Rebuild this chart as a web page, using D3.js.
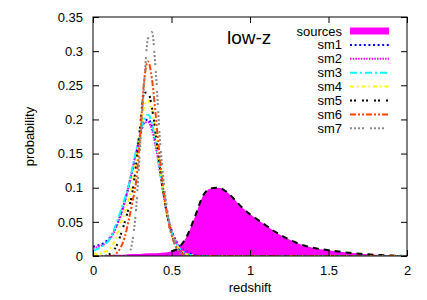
<!DOCTYPE html>
<html>
<head>
<meta charset="utf-8">
<script src="https://cdn.jsdelivr.net/npm/d3@7"></script>
<style>
  body { margin: 0; background: #fff; }
  svg text { font-family: "Liberation Sans", Arial, sans-serif; fill: #000; }
</style>
</head>
<body>
<svg id="chart" width="427" height="300"></svg>
<script>
// redshift grid for the sm curves
const smZ = [0, 0.025, 0.05, 0.075, 0.1, 0.125, 0.15, 0.175, 0.2, 0.225, 0.25, 0.275, 0.3, 0.325,
  0.35, 0.375, 0.4, 0.425, 0.45, 0.475, 0.5, 0.525, 0.55, 0.575, 0.6, 0.625, 0.65, 0.675, 0.7]

const sm1 = [0.014, 0.015, 0.017, 0.02, 0.025, 0.033, 0.045, 0.06, 0.078, 0.1, 0.125, 0.15, 0.175, 0.195,
  0.2, 0.19, 0.163, 0.127, 0.09, 0.06, 0.038, 0.024, 0.015, 0.01, 0.006, 0.003, 0.001, 0, 0]
const sm2 = [0.012, 0.013, 0.015, 0.018, 0.023, 0.031, 0.043, 0.058, 0.077, 0.1, 0.126, 0.152, 0.178, 0.196,
  0.196, 0.185, 0.16, 0.125, 0.089, 0.059, 0.037, 0.023, 0.014, 0.009, 0.005, 0.002, 0.001, 0, 0]
const sm3 = [0.008, 0.01, 0.013, 0.017, 0.023, 0.033, 0.049, 0.065, 0.083, 0.1, 0.128, 0.155, 0.18, 0.2,
  0.207, 0.195, 0.165, 0.127, 0.09, 0.058, 0.035, 0.02, 0.011, 0.006, 0.003, 0.001, 0, 0, 0]
const sm4 = [0.002, 0.003, 0.004, 0.006, 0.009, 0.016, 0.03, 0.047, 0.062, 0.08, 0.104, 0.14, 0.18, 0.218,
  0.228, 0.212, 0.175, 0.13, 0.09, 0.057, 0.034, 0.019, 0.01, 0.005, 0.002, 0.001, 0, 0, 0]
const sm5 = [0, 0, 0, 0, 0.002, 0.006, 0.015, 0.03, 0.048, 0.068, 0.092, 0.135, 0.19, 0.238,
  0.24, 0.218, 0.178, 0.132, 0.09, 0.056, 0.032, 0.017, 0.008, 0.003, 0.001, 0, 0, 0, 0]
const sm6 = [0, 0, 0, 0, 0, 0, 0.004, 0.012, 0.026, 0.05, 0.078, 0.11, 0.175, 0.255,
  0.285, 0.26, 0.205, 0.145, 0.095, 0.057, 0.031, 0.015, 0.007, 0.002, 0, 0, 0, 0, 0]
const sm7 = [0, 0, 0, 0, 0, 0, 0, 0, 0, 0.003, 0.02, 0.07, 0.16, 0.25,
  0.318, 0.328, 0.27, 0.175, 0.11, 0.065, 0.035, 0.017, 0.007, 0.002, 0, 0, 0, 0, 0]

// sources distribution
const srcZ = [0, 0.05, 0.1, 0.15, 0.2, 0.25, 0.3, 0.35, 0.4, 0.45, 0.5, 0.55, 0.6, 0.65, 0.7, 0.75,
  0.8, 0.85, 0.9, 0.95, 1.0, 1.05, 1.1, 1.15, 1.2, 1.25, 1.3, 1.35, 1.4, 1.45, 1.5, 1.55, 1.6,
  1.65, 1.7, 1.75, 1.8, 1.85, 1.9, 1.95, 2.0]
const srcP = [0, 0, 0.001, 0.002, 0.002, 0.003, 0.003, 0.004, 0.004, 0.005, 0.007, 0.013, 0.03, 0.058,
  0.088, 0.099, 0.1, 0.094, 0.083, 0.071, 0.061, 0.053, 0.045, 0.037, 0.03, 0.024, 0.019, 0.015,
  0.012, 0.01, 0.0085, 0.007, 0.0055, 0.0043, 0.0033, 0.0025, 0.0018, 0.0012, 0.0007, 0.0003, 0]
// the dashed model only shows from here on
const fitStartZ = 0.5

const xTicks = [0, 0.5, 1, 1.5, 2]
const yTicks = [0, 0.05, 0.1, 0.15, 0.2, 0.25, 0.3, 0.35]

const seriesNames = ["sm1", "sm2", "sm3", "sm4", "sm5", "sm6", "sm7"]
const seriesValues = [sm1, sm2, sm3, sm4, sm5, sm6, sm7]
const seriesColors = ["#0000ff", "#ff00ff", "#00ffff", "#ffff00", "#000000", "#ff4500", "#888888"]
const seriesDash = ["2,2.6", "1.5,1.2", "7,3,2,3", "4,3,1.5,3", "2,2,2,6", "6,2,2,2,2,2", "2,2,2,2,2,2,2,6"]

const svg = d3.select("#chart")
const margin = { top: 17, right: 20, bottom: 44, left: 93 }
const W = 427 - margin.left - margin.right
const H = 300 - margin.top - margin.bottom

const x = d3.scaleLinear().domain([0, 2]).range([0, W])
const y = d3.scaleLinear().domain([0, 0.35]).range([H, 0])

const g = svg.append("g").attr("transform", `translate(${margin.left},${margin.top})`)

const defs = svg.append("defs")
defs.append("clipPath").attr("id", "clip")
  .append("rect").attr("width", W).attr("height", H)

const plot = g.append("g").attr("clip-path", "url(#clip)")

// sources fill
const srcData = srcZ.map((z, i) => [z, srcP[i]])
plot.append("path")
  .datum(srcData)
  .attr("fill", "#ff00ff")
  .attr("d", d3.area().x(d => x(d[0])).y0(y(0)).y1(d => y(d[1])).curve(d3.curveMonotoneX))

plot.append("path")
  .datum(srcData.filter(d => d[0] >= fitStartZ))
  .attr("fill", "none")
  .attr("stroke", "#000")
  .attr("stroke-width", 2)
  .attr("stroke-dasharray", "6,5")
  .attr("d", d3.line().x(d => x(d[0])).y(d => y(d[1])).curve(d3.curveMonotoneX))

// sm curves
const line = d3.line().x(d => x(d[0])).y(d => y(d[1])).curve(d3.curveMonotoneX)
seriesValues.forEach((vals, k) => {
  plot.append("path")
    .datum(smZ.map((z, i) => [z, vals[i]]).concat([[2, 0]]))
    .attr("fill", "none")
    .attr("stroke", seriesColors[k])
    .attr("stroke-width", 2)
    .attr("stroke-dasharray", seriesDash[k])
    .attr("d", line)
})

// axes (gnuplot style: inward ticks, mirrored)
const fmt = d => String(d)
g.append("g").attr("transform", `translate(0,${H})`)
  .call(d3.axisBottom(x).tickValues(xTicks).tickFormat(fmt).tickSizeInner(-6).tickSizeOuter(0).tickPadding(10))
g.append("g")
  .call(d3.axisTop(x).tickValues(xTicks).tickFormat("").tickSizeInner(-6).tickSizeOuter(0))
g.append("g")
  .call(d3.axisLeft(y).tickValues(yTicks).tickFormat(fmt).tickSizeInner(-6).tickSizeOuter(0).tickPadding(10))
g.append("g").attr("transform", `translate(${W},0)`)
  .call(d3.axisRight(y).tickValues(yTicks).tickFormat("").tickSizeInner(-6).tickSizeOuter(0))

g.selectAll(".domain").remove()
g.selectAll(".tick line").attr("stroke", "#000")
g.selectAll(".tick text").style("font-size", "13px").attr("fill", "#000")

g.append("rect")
  .attr("width", W).attr("height", H)
  .attr("fill", "none").attr("stroke", "#000").attr("stroke-width", 1)

// axis titles
svg.append("text")
  .attr("x", margin.left + W / 2).attr("y", 292)
  .attr("text-anchor", "middle").style("font-size", "13px")
  .text("redshift")
svg.append("text")
  .attr("transform", `translate(34,${margin.top + H / 2}) rotate(-90)`)
  .attr("text-anchor", "middle").style("font-size", "13px")
  .text("probability")

svg.append("text")
  .attr("x", 227).attr("y", 44)
  .style("font-size", "19px")
  .text("low-z")

// legend
const legend = svg.append("g")
const rowH = 13.9
const lx0 = 350, lx1 = 389, ltx = 342, ly0 = 31
legend.append("text")
  .attr("x", ltx).attr("y", ly0).attr("dy", "0.35em")
  .attr("text-anchor", "end").style("font-size", "13px")
  .text("sources")
legend.append("rect")
  .attr("x", lx0).attr("y", ly0 - 3.5).attr("width", lx1 - lx0).attr("height", 7)
  .attr("fill", "#ff00ff")
seriesNames.forEach((name, k) => {
  const yy = ly0 + rowH * (k + 1)
  legend.append("text")
    .attr("x", ltx).attr("y", yy).attr("dy", "0.35em")
    .attr("text-anchor", "end").style("font-size", "13px")
    .text(name)
  legend.append("line")
    .attr("x1", lx0).attr("x2", lx1).attr("y1", yy).attr("y2", yy)
    .attr("stroke", seriesColors[k]).attr("stroke-width", 2)
    .attr("stroke-dasharray", seriesDash[k])
})
</script>
</body>
</html>
